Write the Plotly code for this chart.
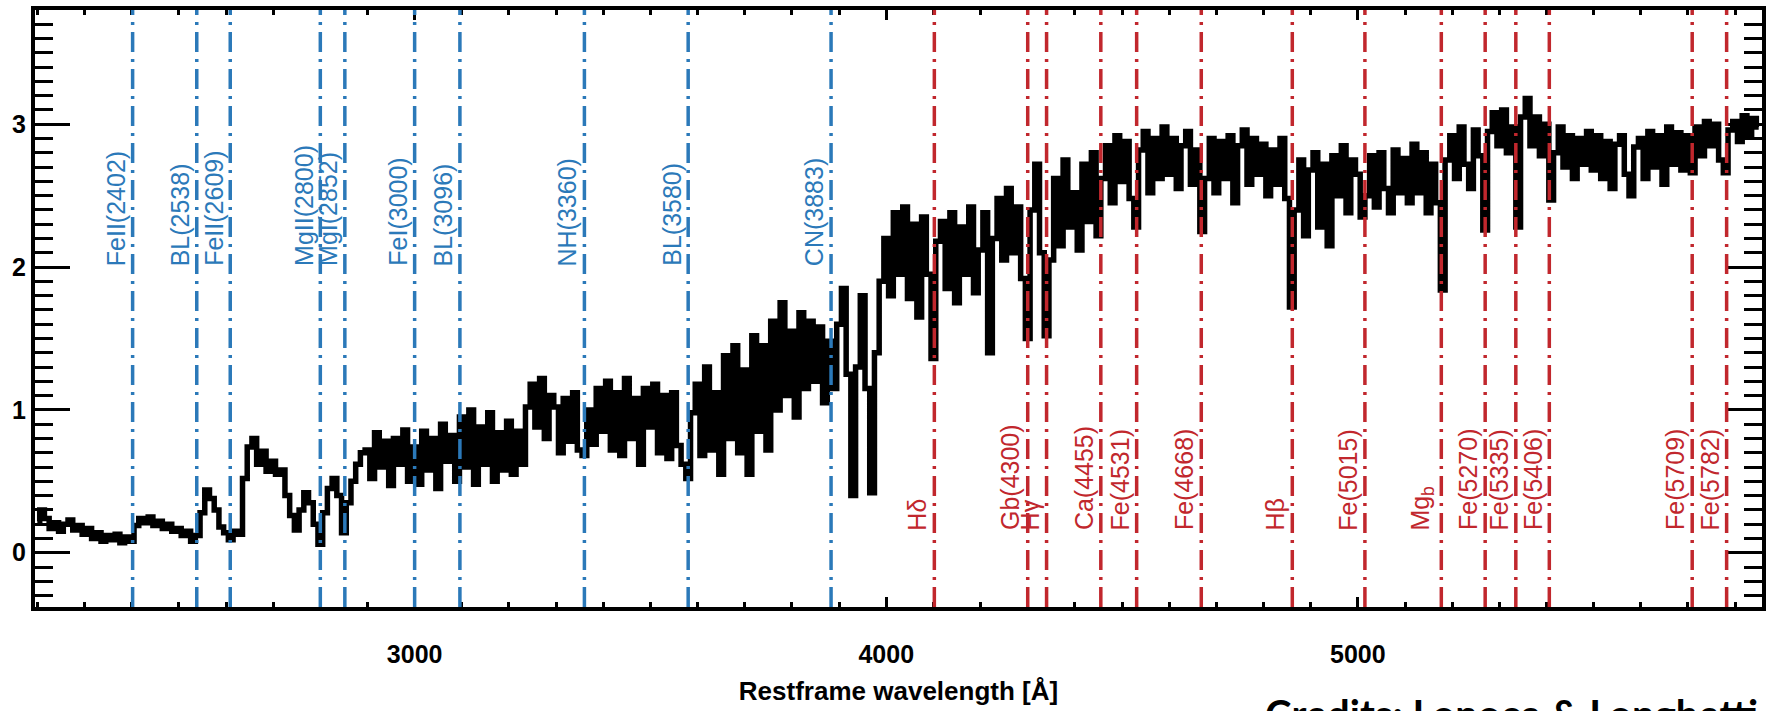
import numpy as np
import plotly.graph_objects as go

# ---------------- data ----------------
wave_start = 2200
wave_step = 10
flux = [
    0.22, 0.30, 0.24, 0.17, 0.21, 0.15, 0.20, 0.23, 0.16, 0.19,
    0.13, 0.17, 0.10, 0.14, 0.08, 0.12, 0.09, 0.13, 0.07, 0.11,
    0.08, 0.19, 0.24, 0.21, 0.25, 0.19, 0.22, 0.17, 0.20, 0.15,
    0.17, 0.12, 0.15, 0.08, 0.12, 0.28, 0.44, 0.38, 0.30, 0.18,
    0.14, 0.09, 0.15, 0.13, 0.52, 0.74, 0.80, 0.62, 0.71, 0.57,
    0.64, 0.55, 0.58, 0.40, 0.26, 0.16, 0.30, 0.42, 0.35, 0.20,
    0.06, 0.28, 0.45, 0.52, 0.40, 0.14, 0.35, 0.50, 0.62, 0.70,
    0.72, 0.52, 0.84, 0.60, 0.78, 0.47, 0.80, 0.62, 0.86, 0.50,
    0.74, 0.48, 0.85, 0.58, 0.80, 0.45, 0.90, 0.64, 0.82, 0.50,
    0.95, 0.60, 1.00, 0.48, 0.88, 0.62, 0.98, 0.50, 0.84, 0.58,
    0.92, 0.55, 0.85, 0.62, 1.02, 1.18, 0.88, 1.22, 0.80, 1.10,
    1.02, 0.70, 1.08, 0.78, 1.12, 0.72, 0.68, 1.00, 0.76, 1.15,
    0.85, 1.20, 0.72, 1.12, 0.68, 1.22, 0.80, 1.08, 0.62, 1.15,
    0.88, 1.18, 0.70, 1.10, 0.66, 1.12, 0.75, 0.62, 0.52, 0.98,
    1.18, 0.68, 1.30, 0.72, 1.12, 0.55, 1.38, 0.80, 1.45, 0.70,
    1.28, 0.55, 1.52, 0.85, 1.45, 0.72, 1.62, 1.00, 1.75, 1.10,
    1.55, 0.95, 1.68, 1.15, 1.62, 1.20, 1.58, 1.05, 1.48, 1.15,
    1.60, 1.85, 1.25, 0.40, 1.30, 1.80, 1.15, 0.42, 1.40, 1.90,
    2.20, 1.80, 2.38, 1.95, 2.42, 1.78, 2.30, 1.65, 2.35, 1.95,
    1.36, 2.18, 2.32, 1.85, 2.38, 1.75, 2.28, 1.95, 2.42, 1.82,
    2.12, 2.38, 1.40, 2.20, 2.48, 2.05, 2.55, 2.10, 2.42, 1.92,
    1.50, 2.40, 2.72, 2.10, 1.52, 2.05, 2.62, 2.15, 2.75, 2.28,
    2.52, 2.12, 2.72, 2.32, 2.80, 2.22, 2.62, 2.85, 2.45, 2.92,
    2.60, 2.88, 2.48, 2.28, 2.82, 2.95, 2.52, 2.90, 2.62, 2.98,
    2.65, 2.90, 2.55, 2.85, 2.95, 2.58, 2.82, 2.25, 2.62, 2.90,
    2.52, 2.88, 2.62, 2.92, 2.45, 2.85, 2.96, 2.58, 2.90, 2.65,
    2.86, 2.50, 2.82, 2.58, 2.90, 2.48, 1.72, 2.40, 2.75, 2.22,
    2.68, 2.80, 2.28, 2.72, 2.15, 2.78, 2.50, 2.85, 2.38, 2.75,
    2.65, 2.35, 2.50, 2.78, 2.42, 2.80, 2.55, 2.38, 2.82, 2.52,
    2.76, 2.45, 2.86, 2.52, 2.80, 2.38, 2.72, 2.45, 1.84, 2.75,
    2.92, 2.62, 2.98, 2.72, 2.55, 2.96, 2.78, 2.26, 2.95, 3.08,
    2.85, 3.10, 2.80, 2.98, 2.28, 3.05, 3.18, 2.85, 3.05, 2.78,
    3.00, 2.47, 2.80, 2.98, 2.70, 2.92, 2.62, 2.90, 2.72, 2.95,
    2.68, 2.92, 2.62, 2.88, 2.55, 2.86, 2.92, 2.65, 2.50, 2.84,
    2.90, 2.62, 2.95, 2.70, 2.92, 2.58, 2.98, 2.72, 2.94, 2.68,
    2.92, 2.66, 2.98, 2.78, 3.02, 2.85, 3.00, 2.75, 2.66, 2.96,
    3.02, 2.88, 3.06, 2.92, 3.04, 2.98,
]
wavelength = wave_start + wave_step * np.arange(len(flux))

blue_lines = [2402, 2538, 2609, 2800, 2852, 3000, 3096, 3360, 3580, 3883]
blue_labels = ["FeII(2402)", "BL(2538)", "FeII(2609)", "MgII(2800)", "MgI(2852)",
               "FeI(3000)", "BL(3096)", "NH(3360)", "BL(3580)", "CN(3883)"]
red_lines = [4102, 4300, 4340, 4455, 4531, 4668, 4861, 5015, 5177, 5270, 5335, 5406, 5709, 5782]
red_labels = ["Hδ", "Gb(4300)", "Hγ", "Ca(4455)", "Fe(4531)", "Fe(4668)", "Hβ",
              "Fe(5015)", "Mg<sub>b</sub>", "Fe(5270)", "Fe(5335)", "Fe(5406)",
              "Fe(5709)", "Fe(5782)"]
blue_label_y = 2.0
red_label_y = 0.15

x_ticks = [3000, 4000, 5000]
y_ticks = [0, 1, 2, 3]
x_range = [2195, 5857]
y_range = [-0.38, 3.80]

BLUE = "#2b79b9"
RED = "#c1272d"
DASH = "20px,7px,3px,7px"
LABEL_FONT = "Liberation Sans, Arial, Helvetica, sans-serif"

# ---------------- figure ----------------
fig = go.Figure()
fig.add_trace(go.Scatter(x=wavelength, y=flux, mode="lines",
                         line=dict(color="black", width=5.5, shape="hvh"),
                         hoverinfo="skip", showlegend=False))

for w in blue_lines:
    fig.add_shape(type="line", xref="x", yref="paper", x0=w, x1=w, y0=0, y1=1,
                  line=dict(color=BLUE, width=3.5, dash=DASH), layer="above")
for w in red_lines:
    fig.add_shape(type="line", xref="x", yref="paper", x0=w, x1=w, y0=0, y1=1,
                  line=dict(color=RED, width=3.5, dash=DASH), layer="above")

for w, t in zip(blue_lines, blue_labels):
    fig.add_annotation(x=w, y=blue_label_y, xref="x", yref="y", text=t,
                       textangle=-90, showarrow=False, xanchor="right",
                       yanchor="bottom", xshift=-2, borderpad=0,
                       font=dict(family=LABEL_FONT, size=25, color=BLUE))
for w, t in zip(red_lines, red_labels):
    fig.add_annotation(x=w, y=red_label_y, xref="x", yref="y", text=t,
                       textangle=-90, showarrow=False, xanchor="right",
                       yanchor="bottom", xshift=-2, borderpad=0,
                       font=dict(family=LABEL_FONT, size=25, color=RED))

fig.add_annotation(x=0.711, y=-0.135, xref="paper", yref="paper",
                   text="<b>Credits: Lonoce &amp; Longhetti</b>", showarrow=False,
                   xanchor="left", yanchor="top",
                   font=dict(family="Lato, Open Sans, sans-serif", size=40, color="black"))

axis_common = dict(showline=True, linecolor="black", linewidth=4, mirror="allticks",
                   ticks="inside", tickcolor="black", showgrid=False, zeroline=False,
                   tickfont=dict(family=LABEL_FONT, size=25, color="black", weight="bold"))

fig.update_xaxes(range=x_range, tickvals=x_ticks, ticklen=10, tickwidth=3,
                 ticklabelstandoff=22,
                 minor=dict(dtick=100, ticklen=5, tickwidth=3, ticks="inside", tickcolor="black"),
                 title=dict(text="<b>Restframe wavelength [Å]</b>", standoff=16,
                            font=dict(family=LABEL_FONT, size=26, color="black")),
                 **axis_common)
fig.update_yaxes(range=y_range, tickvals=y_ticks, ticklen=35, tickwidth=3,
                 minor=dict(dtick=0.1, ticklen=18, tickwidth=3, ticks="inside", tickcolor="black"),
                 **axis_common)

fig.update_layout(width=1771, height=711, margin=dict(l=35, r=5, t=10, b=104),
                  plot_bgcolor="white", paper_bgcolor="white", showlegend=False)

fig.write_html("out.html")
